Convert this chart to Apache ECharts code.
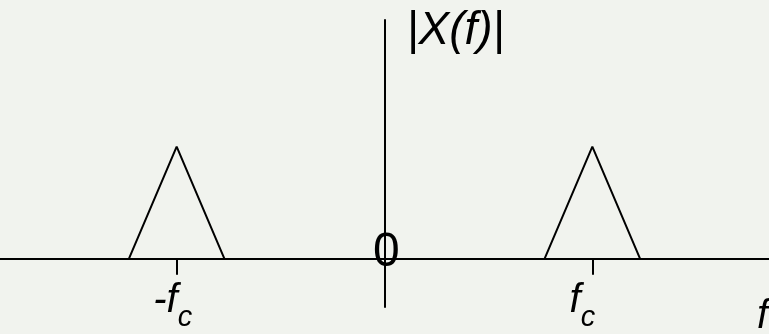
<!DOCTYPE html>
<html>
<head>
<meta charset="utf-8">
<script src="https://cdn.jsdelivr.net/npm/echarts@6/dist/echarts.min.js"></script>
<style>
  html, body { margin: 0; padding: 0; background: #f1f3ee; }
  #chart { width: 769px; height: 334px; }
</style>
</head>
<body>
<div id="chart"></div>
<script>
// Magnitude spectrum of a band-pass signal: two triangular lobes centred on ±fc
const negLobeF = [-1.23, -1, -0.77];
const negLobeMag = [0, 1, 0];
const posLobeF = [0.77, 1, 1.23];
const posLobeMag = [0, 1, 0];
const tickValues = [-1, 1];
const tickLabels = ['{m|-f}{s|c}{q|}', '{m|f}{s|c}{p|}'];

const font = '"Liberation Sans", Arial, sans-serif';
const ink = '#000';

const pairs = (xs, ys) => xs.map((x, i) => [x, ys[i]]);

const chart = echarts.init(document.getElementById('chart'));
chart.setOption({
  backgroundColor: '#f1f3ee',
  animation: false,
  grid: {
    left: 0, right: 0, top: 20, bottom: 27,
    containLabel: false,
    outerBoundsMode: 'none'
  },
  xAxis: {
    type: 'value',
    min: -1.85,
    max: 1.85,
    splitLine: { show: false },
    axisLine: { onZero: true, lineStyle: { color: ink, width: 2 }, symbol: 'none' },
    axisTick: { show: true, customValues: tickValues, length: 16, lineStyle: { color: ink, width: 2 } },
    axisLabel: {
      show: true,
      customValues: tickValues,
      margin: -26,
      hideOverlap: false,
      showMinLabel: true,
      showMaxLabel: true,
      formatter: (v) => tickLabels[tickValues.indexOf(v)],
      rich: {
        m: { fontFamily: font, fontStyle: 'italic', fontSize: 40, lineHeight: 40, color: ink, verticalAlign: 'top' },
        s: { fontFamily: font, fontStyle: 'italic', fontSize: 29, lineHeight: 29, color: ink, verticalAlign: 'top', padding: [22, 0, 0, 0] },
        p: { width: 20 },
        q: { width: 8 }
      }
    },
    name: 'f',
    nameLocation: 'end',
    nameGap: -12,
    nameTextStyle: {
      fontFamily: font, fontStyle: 'italic', fontSize: 40, color: ink,
      align: 'left', verticalAlign: 'top', padding: [38, 0, 0, 0]
    }
  },
  yAxis: {
    type: 'value',
    min: -0.43,
    max: 2.13,
    splitLine: { show: false },
    axisTick: { show: false },
    axisLabel: { show: false },
    axisLine: { onZero: true, lineStyle: { color: ink, width: 2 }, symbol: 'none' },
    name: '|X(f)|',
    nameLocation: 'end',
    nameGap: 12,
    nameTextStyle: {
      fontFamily: font, fontStyle: 'italic', fontSize: 46, color: ink,
      align: 'left', verticalAlign: 'top', padding: [0, 0, 0, 22]
    }
  },
  graphic: [{
    type: 'text',
    left: 373,
    top: 229,
    style: { text: '0', font: '48px ' + font, fill: ink }
  }],
  series: [
    {
      type: 'line', data: pairs(negLobeF, negLobeMag), symbol: 'none',
      lineStyle: { color: ink, width: 2 }
    },
    {
      type: 'line', data: pairs(posLobeF, posLobeMag), symbol: 'none',
      lineStyle: { color: ink, width: 2 }
    }
  ]
});
</script>
</body>
</html>
